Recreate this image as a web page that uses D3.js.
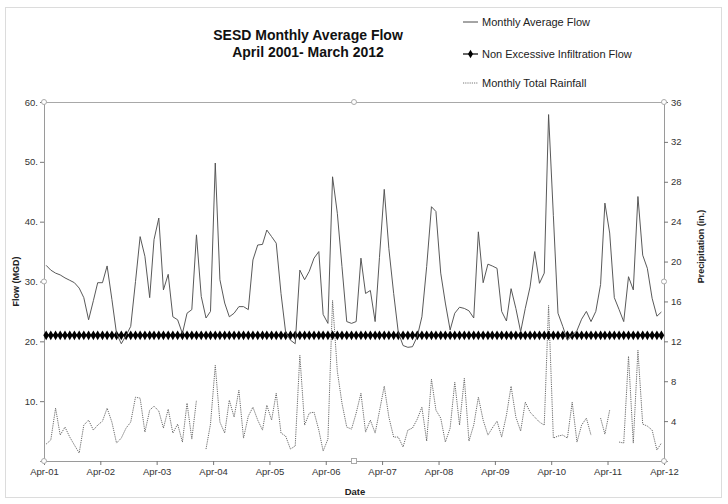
<!DOCTYPE html>
<html><head><meta charset="utf-8">
<script src="https://cdn.jsdelivr.net/npm/d3@7/dist/d3.min.js"></script>
<style>body{margin:0;background:#fff}svg{display:block;font-family:Arial,"Liberation Sans",sans-serif}</style>
</head><body><svg id="c" width="728" height="504"></svg>
<script>
// Monthly values, April 2001 - March 2012 (132 months)
const startMonth = "2001-04";
const monthCount = 132;
const flowMGD = [32.7,31.9,31.4,31.1,30.6,30.2,29.8,28.9,27.3,23.6,26.8,29.8,
 29.8,32.6,27.0,21.3,19.6,21.0,22.5,30.0,37.5,34.2,27.3,37.0,
 40.6,28.6,31.2,24.1,23.6,21.3,24.7,25.3,37.8,27.5,23.9,25.0,
 49.8,30.3,26.4,24.1,24.7,25.8,25.8,25.3,33.6,36.1,36.2,38.6,
 37.5,36.4,28.0,21.5,20.2,19.6,31.9,30.3,31.7,33.9,35.0,24.5,
 23.0,47.5,41.4,32.5,23.3,23.0,23.3,33.9,28.0,28.5,23.3,34.0,
 45.4,35.5,28.0,21.5,19.3,19.0,19.1,20.8,24.1,32.5,42.5,41.7,
 31.4,26.4,21.9,24.7,25.7,25.5,25.1,23.9,38.3,29.8,32.9,32.6,
 32.2,25.0,23.4,28.8,25.5,21.6,25.5,29.1,35.0,29.7,31.4,57.9,
 41.0,24.7,22.5,20.2,21.0,21.8,23.7,25.0,23.3,25.0,29.5,43.1,
 38.1,27.3,25.3,23.3,30.8,28.6,44.2,34.4,32.2,27.2,24.2,24.9];
const infiltrationMGD = [21,21,21,21,21,21,21,21,21,21,21,21,21,21,21,21,21,21,21,21,21,21,21,21,
 21,21,21,21,21,21,21,21,21,21,21,21,21,21,21,21,21,21,21,21,21,21,21,21,
 21,21,21,21,21,21,21,21,21,21,21,21,21,21,21,21,21,21,21,21,21,21,21,21,
 21,21,21,21,21,21,21,21,21,21,21,21,21,21,21,21,21,21,21,21,21,21,21,21,
 21,21,21,21,21,21,21,21,21,21,21,21,21,21,21,21,21,21,21,21,21,21,21,21,
 21,21,21,21,21,21,21,21,21,21,21,21];
const rainIn = [1.7,2.1,5.3,2.6,3.4,2.4,1.6,0.8,3.6,4.1,3.1,3.6,
 4.0,5.3,3.9,1.8,2.3,3.3,3.9,6.4,6.3,2.9,5.1,5.5,
 5.0,3.3,5.2,2.8,3.7,1.9,5.8,2.2,6.1,null,1.2,3.7,
 9.6,3.9,2.8,6.1,4.4,7.1,2.3,4.5,5.4,4.1,3.1,5.6,
 4.1,6.8,2.8,2.5,1.2,1.5,10.6,3.6,4.8,4.9,3.1,1.0,
 2.2,16.1,9.0,5.8,3.4,3.2,4.8,6.8,2.9,4.1,2.8,5.0,
 7.5,4.4,2.4,2.4,1.4,3.1,3.3,4.2,5.4,2.0,8.2,5.1,
 4.3,1.9,3.3,7.9,3.6,8.3,2.0,3.6,6.4,4.1,2.6,3.3,
 4.0,2.4,4.6,7.5,4.4,3.0,5.9,4.9,4.4,3.9,3.6,15.6,
 2.3,2.5,2.6,2.3,5.9,1.9,3.6,4.3,2.6,null,4.3,2.7,
 5.1,null,1.9,1.8,10.5,1.8,11.1,3.7,3.5,3.1,1.1,1.8];
const leftTicks = [10,20,30,40,50,60];
const rightTicks = [4,8,12,16,20,24,28,32,36];
const titleLines = ["SESD Monthly Average Flow","April 2001- March 2012"];
const legendLabels = ["Monthly Average Flow","Non Excessive Infiltration Flow","Monthly Total Rainfall"];

const parse = d3.timeParse("%Y-%m");
const t0 = parse(startMonth);
const months = d3.range(monthCount).map(i => { const d = d3.timeMonth.offset(t0, i); return new Date(d.getFullYear(), d.getMonth(), 15); });
const rows = months.map((d,i)=>({date:d, flow:flowMGD[i], inf:infiltrationMGD[i], rain:rainIn[i]}));

const svg = d3.select("#c");
const L=44, R=664, T=102, B=461;
const x = d3.scaleTime().domain([t0, d3.timeMonth.offset(t0, monthCount)]).range([L,R]);
const yL = d3.scaleLinear().domain([0,60]).range([B,T]);
const yR = d3.scaleLinear().domain([0,36]).range([B,T]);

// outer chart frame
svg.append("rect").attr("x",5.5).attr("y",7.5).attr("width",716).attr("height",490)
  .attr("fill","none").attr("stroke","#dcdcdc");

// plot frame top
svg.append("line").attr("x1",L).attr("x2",R).attr("y1",T+0.5).attr("y2",T+0.5).attr("stroke","#a8a8a8");

const axisColor = "#9a9a9a";
const gl = svg.append("g").attr("transform",`translate(${L},0)`)
  .call(d3.axisLeft(yL).tickValues(leftTicks).tickSize(4).tickFormat(d=>d+"."));
const gr = svg.append("g").attr("transform",`translate(${R},0)`)
  .call(d3.axisRight(yR).tickValues(rightTicks).tickSize(4).tickFormat(d=>d));
const gx = svg.append("g").attr("transform",`translate(0,${B})`)
  .call(d3.axisBottom(x).tickSizeInner(4).tickSizeOuter(0)
  .tickValues(d3.range(12).map(k=>d3.timeYear.offset(t0,k))).tickFormat(d3.timeFormat("%b-%y")));
[gl,gr,gx].forEach(g=>{
  g.select(".domain").attr("stroke",axisColor);
  g.selectAll(".tick line").attr("stroke","#777");
  g.selectAll("text").attr("fill","#333").attr("font-size","9.5px").attr("font-family","Arial, Liberation Sans, sans-serif");
});
gl.selectAll("text").attr("x",-6);
gr.selectAll("text").attr("x",7);
gx.selectAll("text").attr("y",7);

// axis titles
svg.append("text").attr("transform",`translate(19,${(T+B)/2}) rotate(-90)`).attr("text-anchor","middle")
  .attr("font-size","9px").attr("font-weight","bold").attr("fill","#222").text("Flow (MGD)");
svg.append("text").attr("transform",`translate(704,${(T+B)/2 - 35}) rotate(-90)`).attr("text-anchor","middle")
  .attr("font-size","9px").attr("font-weight","bold").attr("fill","#222").text("Precipitation (in.)");
svg.append("text").attr("x",355).attr("y",495).attr("text-anchor","middle")
  .attr("font-size","9.5px").attr("font-weight","bold").attr("fill","#222").text("Date");

// series
svg.append("path").datum(rows).attr("fill","none").attr("stroke","#6a6a6a").attr("stroke-width",1)
  .attr("stroke-dasharray","1.2,1")
  .attr("d", d3.line().defined(d=>d.rain!=null).x(d=>x(d.date)).y(d=>yR(d.rain)));
svg.append("path").datum(rows).attr("fill","none").attr("stroke","#000").attr("stroke-width",2)
  .attr("d", d3.line().x(d=>x(d.date)).y(d=>yL(d.inf)));
svg.append("g").selectAll("path").data(rows).join("path")
  .attr("transform",d=>`translate(${x(d.date)},${yL(d.inf)})`)
  .attr("d", d3.symbol(d3.symbolDiamond, 28)).attr("fill","#000");
svg.append("path").datum(rows).attr("fill","none").attr("stroke","#505050").attr("stroke-width",0.95)
  .attr("d", d3.line().x(d=>x(d.date)).y(d=>yL(d.flow)));

// selection handles
const handles = [[L,T],[(L+R)/2,T],[R,T],[L,(T+B)/2],[R,(T+B)/2],[L,B],[R,B]];
svg.append("g").selectAll("circle").data(handles).join("circle")
  .attr("cx",d=>d[0]).attr("cy",d=>d[1]).attr("r",2.5).attr("fill","#fff").attr("stroke","#aaa");
svg.append("rect").attr("x",(L+R)/2-2.5).attr("y",B-2.5).attr("width",5).attr("height",5)
  .attr("fill","#fff").attr("stroke","#aaa");

// title
const tt = svg.append("text").attr("text-anchor","middle").attr("font-weight","bold")
  .attr("font-size","14px").attr("fill","#111");
titleLines.forEach((s,i)=>tt.append("tspan").attr("x",308).attr("y",40+i*17).text(s));

// legend
const lg = svg.append("g").attr("font-size","11px").attr("fill","#222");
const ly = [22,54,83];
legendLabels.forEach((s,i)=>{
  lg.append("text").attr("x",482).attr("y",ly[i]+4).text(s);
});
lg.append("line").attr("x1",463).attr("x2",478).attr("y1",ly[0]).attr("y2",ly[0]).attr("stroke","#4a4a4a");
lg.append("line").attr("x1",463).attr("x2",478).attr("y1",ly[1]).attr("y2",ly[1]).attr("stroke","#000").attr("stroke-width",1.2);
lg.append("path").attr("transform",`translate(470.5,${ly[1]})`).attr("d",d3.symbol(d3.symbolDiamond,22)).attr("fill","#000");
lg.append("line").attr("x1",463).attr("x2",478).attr("y1",ly[2]).attr("y2",ly[2]).attr("stroke","#777").attr("stroke-dasharray","1.2,1");
</script></body></html>
